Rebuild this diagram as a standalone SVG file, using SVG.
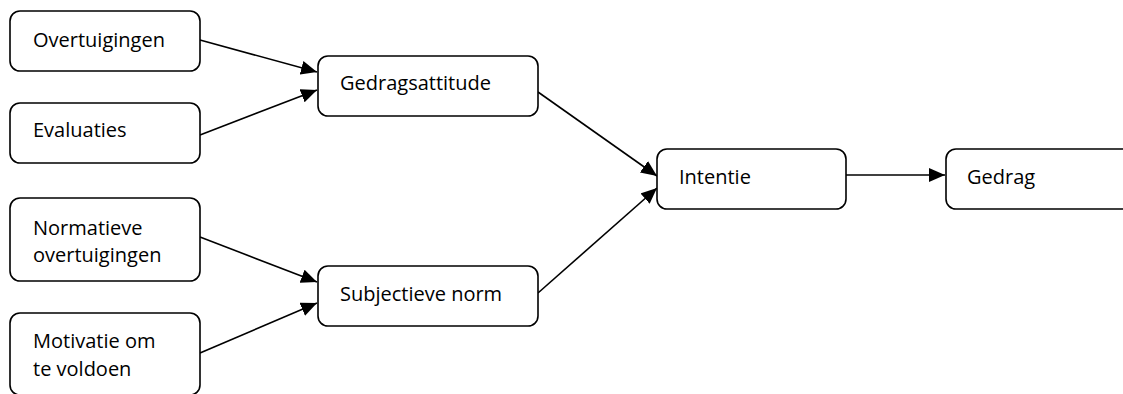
<svg xmlns="http://www.w3.org/2000/svg" width="1123" height="394" viewBox="0 0 1123 394">
<style>
.box{fill:#fff;stroke:#000;stroke-width:1.6}
.t{font-family:"Open Sans","Liberation Sans",sans-serif;font-size:20px;fill:#000}
.c{stroke:#000;stroke-width:1.6;fill:none}
</style>
<defs>
<marker id="ah" markerUnits="userSpaceOnUse" markerWidth="17" markerHeight="14" refX="16" refY="7" orient="auto">
<path d="M0,0 L16,7 L0,14 Z" fill="#000"/>
</marker>
</defs>
<rect width="1123" height="394" fill="#fff"/>
<g id="connectors">
<line class="c" x1="200" y1="40" x2="317" y2="72" marker-end="url(#ah)"/>
<line class="c" x1="200" y1="135" x2="317" y2="90" marker-end="url(#ah)"/>
<line class="c" x1="200" y1="237" x2="317" y2="282" marker-end="url(#ah)"/>
<line class="c" x1="200" y1="353" x2="317" y2="303" marker-end="url(#ah)"/>
<line class="c" x1="538" y1="92" x2="657" y2="176" marker-end="url(#ah)"/>
<line class="c" x1="538" y1="293" x2="657" y2="188" marker-end="url(#ah)"/>
<line class="c" x1="846" y1="175" x2="945" y2="175" marker-end="url(#ah)"/>
</g>
<g id="overtuigingen">
<rect class="box" x="10" y="11" width="190" height="60" rx="10"/>
<text class="t" x="33" y="47">Overtuigingen</text>
</g>
<g id="evaluaties">
<rect class="box" x="10" y="103" width="190" height="60" rx="10"/>
<text class="t" x="33" y="137">Evaluaties</text>
</g>
<g id="normatieve">
<rect class="box" x="10" y="198" width="190" height="83" rx="10"/>
<text class="t" x="33" y="235">Normatieve</text>
<text class="t" x="33" y="262">overtuigingen</text>
</g>
<g id="motivatie">
<rect class="box" x="10" y="313" width="190" height="82" rx="10"/>
<text class="t" x="33" y="348">Motivatie om</text>
<text class="t" x="33" y="376">te voldoen</text>
</g>
<g id="gedragsattitude">
<rect class="box" x="318" y="56" width="220" height="60" rx="10"/>
<text class="t" x="340" y="90">Gedragsattitude</text>
</g>
<g id="subjectieve">
<rect class="box" x="318" y="266" width="220" height="60" rx="10"/>
<text class="t" x="340" y="301">Subjectieve norm</text>
</g>
<g id="intentie">
<rect class="box" x="657" y="149" width="189" height="60" rx="10"/>
<text class="t" x="679" y="184">Intentie</text>
</g>
<g id="gedrag">
<rect class="box" x="946" y="149" width="190" height="60" rx="10"/>
<text class="t" x="967" y="184">Gedrag</text>
</g>
</svg>
